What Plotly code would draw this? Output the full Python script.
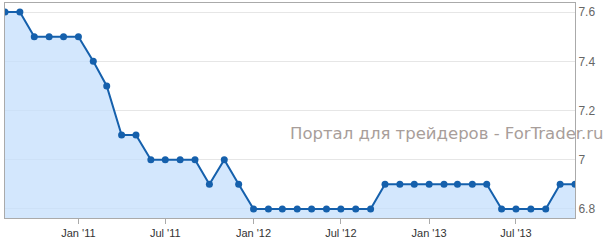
import plotly.graph_objects as go

dates = [
    "2010-08-01", "2010-09-01", "2010-10-01", "2010-11-01", "2010-12-01",
    "2011-01-01", "2011-02-01", "2011-03-01", "2011-04-01", "2011-05-01",
    "2011-06-01", "2011-07-01", "2011-08-01", "2011-09-01", "2011-10-01",
    "2011-11-01", "2011-12-01", "2012-01-01", "2012-02-01", "2012-03-01",
    "2012-04-01", "2012-05-01", "2012-06-01", "2012-07-01", "2012-08-01",
    "2012-09-01", "2012-10-01", "2012-11-01", "2012-12-01", "2013-01-01",
    "2013-02-01", "2013-03-01", "2013-04-01", "2013-05-01", "2013-06-01",
    "2013-07-01", "2013-08-01", "2013-09-01", "2013-10-01", "2013-11-01",
]
values = [
    7.6, 7.6, 7.5, 7.5, 7.5,
    7.5, 7.4, 7.3, 7.1, 7.1,
    7.0, 7.0, 7.0, 7.0, 6.9,
    7.0, 6.9, 6.8, 6.8, 6.8,
    6.8, 6.8, 6.8, 6.8, 6.8,
    6.8, 6.9, 6.9, 6.9, 6.9,
    6.9, 6.9, 6.9, 6.9, 6.8,
    6.8, 6.8, 6.8, 6.9, 6.9,
]
x_tick_vals = ["2011-01-01", "2011-07-01", "2012-01-01", "2012-07-01", "2013-01-01", "2013-07-01"]
x_tick_text = ["Jan '11", "Jul '11", "Jan '12", "Jul '12", "Jan '13", "Jul '13"]
y_tick_vals = [6.8, 7.0, 7.2, 7.4, 7.6]
y_tick_text = ["6.8", "7", "7.2", "7.4", "7.6"]
watermark = "Портал для трейдеров - ForTrader.ru"

fig = go.Figure()
fig.add_trace(go.Scatter(
    x=dates, y=values, mode="lines+markers",
    line=dict(color="#1560ac", width=2),
    marker=dict(color="#1560ac", size=7),
    fill="tozeroy", fillcolor="rgba(196,223,252,0.75)",
    showlegend=False, hoverinfo="skip",
))

fig.update_layout(
    width=605, height=246,
    margin=dict(l=5, r=30, t=3, b=28),
    paper_bgcolor="white", plot_bgcolor="white",
    font=dict(family="Liberation Sans, Arial, sans-serif", size=11, color="#333"),
    xaxis=dict(
        type="date", range=["2010-08-01", "2013-11-01"],
        tickvals=x_tick_vals, ticktext=x_tick_text,
        showgrid=False, ticks="outside", ticklen=5, tickcolor="#aaa",
        showline=True, linecolor="#aaa", linewidth=1, mirror=True,
        tickfont=dict(color="#333", size=11),
        zeroline=False, fixedrange=True,
    ),
    yaxis=dict(
        side="right", range=[6.763, 7.637],
        tickvals=y_tick_vals, ticktext=y_tick_text,
        showgrid=True, gridcolor="#e6e6e6", gridwidth=1,
        showline=True, linecolor="#aaa", linewidth=1, mirror=True,
        ticks="", tickfont=dict(color="#666", size=12),
        zeroline=False, fixedrange=True,
    ),
    annotations=[dict(
        text=watermark, xref="paper", yref="paper",
        x=(288 - 5) / 570, y=(218 - 133) / 215,
        xanchor="left", yanchor="middle", showarrow=False,
        font=dict(family="DejaVu Sans", size=16.5, color="#a89e9a"),
    )],
)

fig.write_html("out.html")
